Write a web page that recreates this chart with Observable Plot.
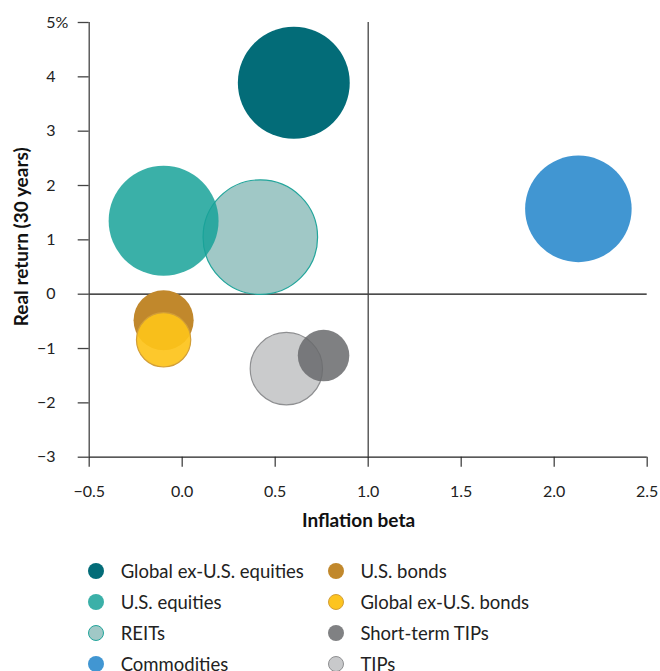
<!DOCTYPE html>
<html>
<head>
<meta charset="utf-8">
<script src="https://cdn.jsdelivr.net/npm/d3@7"></script>
<script src="https://cdn.jsdelivr.net/npm/@observablehq/plot@0.6"></script>
<style>
  html, body { margin: 0; padding: 0; background: #fff; }
  body { width: 660px; font-family: Lato, "Noto Sans", sans-serif; color: #222; }
  #legend { display: grid; grid-template-columns: 239.7px 320px; margin-left: 88.3px; margin-top: 11px; }
  .item { display: flex; align-items: center; height: 30.8px; font-size: 18.5px; color: #222; white-space: nowrap; }
  .sw { width: 16px; height: 16px; border-radius: 50%; box-sizing: border-box; margin-right: 16.4px; flex: none; }
</style>
</head>
<body>
<div id="chart"></div>
<div id="legend"></div>
<script>
// ---- data ----
const assets = ["Global ex-U.S. equities", "U.S. equities", "REITs", "Commodities",
                "U.S. bonds", "Global ex-U.S. bonds", "Short-term TIPs", "TIPs"];
const inflationBeta = [0.60, -0.10, 0.42, 2.13, -0.10, -0.10, 0.76, 0.56];
const realReturn    = [3.89, 1.35, 1.05, 1.57, -0.48, -0.84, -1.13, -1.37];
const volatility    = [17.0, 16.4, 17.8, 15.4, 4.9, 4.0, 3.6, 7.1];

const xTicks = [-0.5, 0, 0.5, 1, 1.5, 2, 2.5];
const xTickLabels = ["−0.5", "0.0", "0.5", "1.0", "1.5", "2.0", "2.5"];
const yTicks = [-3, -2, -1, 0, 1, 2, 3, 4, 5];
const yTickLabels = ["−3", "−2", "−1", "0", "1", "2", "3", "4", "5"];
const legendOrder = ["Global ex-U.S. equities", "U.S. bonds", "U.S. equities", "Global ex-U.S. bonds",
                     "REITs", "Short-term TIPs", "Commodities", "TIPs"];

// ---- styles ----
const fills = {
  "Global ex-U.S. equities": "#036c78",
  "U.S. equities": "rgba(24,162,153,0.85)",
  "REITs": "#a0c8c6",
  "Commodities": "#4196d2",
  "U.S. bonds": "#c1882c",
  "Global ex-U.S. bonds": "rgba(253,195,26,0.92)",
  "Short-term TIPs": "rgba(105,106,108,0.85)",
  "TIPs": "rgba(196,197,199,0.9)"
};
const strokes = {
  "Global ex-U.S. equities": "none",
  "U.S. equities": "none",
  "REITs": "#22a59b",
  "Commodities": "none",
  "U.S. bonds": "none",
  "Global ex-U.S. bonds": "#d29e37",
  "Short-term TIPs": "none",
  "TIPs": "#8e8f91"
};
const legendFills = Object.assign({}, fills, {
  "U.S. equities": "#3bb0a8", "Global ex-U.S. bonds": "#fdc41f",
  "Short-term TIPs": "#808183", "TIPs": "#c8c9cb"
});

const data = assets.map((a, i) => ({asset: a, beta: inflationBeta[i], ret: realReturn[i], vol: volatility[i]}));

const chart = Plot.plot({
  width: 660,
  height: 545,
  marginLeft: 88.7,
  marginRight: 13.3,
  marginTop: 22,
  marginBottom: 88.3,
  style: {fontFamily: "Lato, 'Noto Sans', sans-serif", fontSize: "16px", color: "#222", background: "#fff", overflow: "visible"},
  x: {domain: [-0.5, 2.5]},
  y: {domain: [-3, 5]},
  r: {type: "sqrt", domain: [0, 20], range: [0, 60.7]},
  color: {type: "identity"},
  marks: [
    Plot.ruleY([0], {stroke: "#111", strokeWidth: 1.3}),
    Plot.ruleX([1], {stroke: "#444", strokeWidth: 1.3}),
    Plot.dot(data, {x: "beta", y: "ret", r: "vol",
      fill: d => fills[d.asset], stroke: d => strokes[d.asset], strokeWidth: 1.2}),
    Plot.axisX({ticks: xTicks, tickFormat: d => xTickLabels[xTicks.indexOf(d)],
      tickSize: 10, tickPadding: 18.6, stroke: "#444", strokeWidth: 1.3, label: null, fontSize: 16}),
    Plot.axisY({ticks: yTicks, tickFormat: d => yTickLabels[yTicks.indexOf(d)],
      tickSize: 11, tickPadding: 22.7, stroke: "#444", strokeWidth: 1.3, label: null, fontSize: 16}),
    Plot.ruleX([-0.5], {stroke: "#444", strokeWidth: 1.3}),
    Plot.ruleY([-3], {stroke: "#222", strokeWidth: 1.3}),
    Plot.text(["%"], {x: -0.5, y: 5, dx: -33.7, textAnchor: "start", fontSize: 16, fill: "#222"}),
    Plot.text(["Inflation beta"], {frameAnchor: "bottom", dx: -9.7, dy: 64, fontWeight: "bold", fontSize: 19, fill: "#111", lineAnchor: "middle", textAnchor: "middle"}),
    Plot.text(["Real return (30 years)"], {frameAnchor: "left", dx: -67.7, dy: -3, rotate: -90, fontWeight: "bold", fontSize: 19, fill: "#111", textAnchor: "middle", lineAnchor: "middle"})
  ]
});
document.getElementById("chart").appendChild(chart);

const legend = document.getElementById("legend");
legendOrder.forEach(a => {
  const item = document.createElement("div");
  item.className = "item";
  const sw = document.createElement("span");
  sw.className = "sw";
  sw.style.background = legendFills[a];
  if (strokes[a] !== "none") sw.style.border = "1.3px solid " + strokes[a];
  const t = document.createElement("span");
  t.textContent = a;
  item.appendChild(sw);
  item.appendChild(t);
  legend.appendChild(item);
});
</script>
</body>
</html>
